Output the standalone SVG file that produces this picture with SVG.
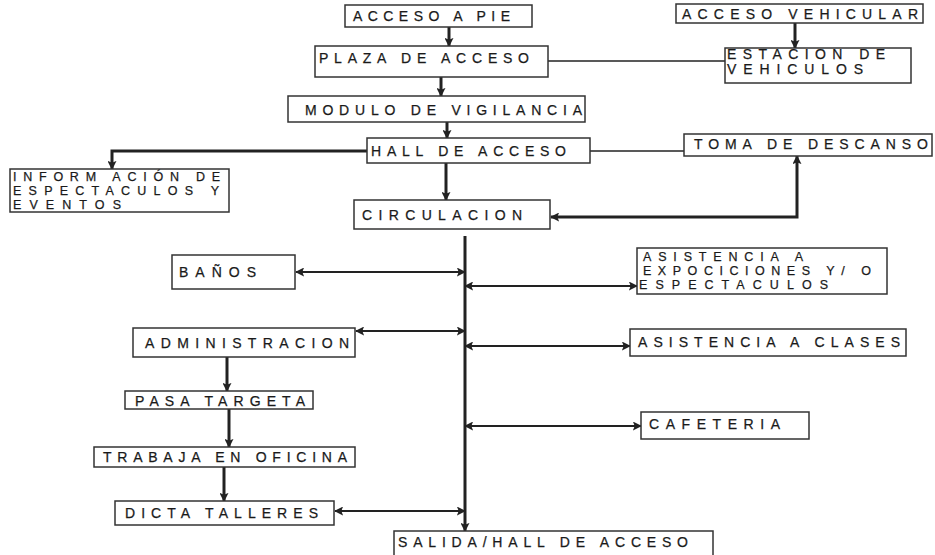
<svg xmlns="http://www.w3.org/2000/svg" width="935" height="555" viewBox="0 0 935 555">
<style>
.n rect{fill:#fff;stroke:#333;stroke-width:1.5}
.n text{font-family:"Liberation Sans",Arial,sans-serif;font-size:14px;fill:#1a1a1a;stroke:#1a1a1a;stroke-width:0.25}
.n text.ml{font-size:12.5px}
.c{fill:none;stroke:#222}
.t{stroke-width:3}
.m{stroke-width:2}
.s{stroke-width:1.4}
</style>
<defs>
<marker id="ah" viewBox="0 0 10 10" refX="9" refY="5" markerWidth="9" markerHeight="9" markerUnits="userSpaceOnUse" orient="auto-start-reverse">
<path d="M0,0 L10,5 L0,10 L2,5 Z" fill="#222"/>
</marker>
</defs>
<rect width="935" height="555" fill="#fff"/>
<g id="connectors">
<line class="c t" x1="449" y1="27" x2="449" y2="46" marker-end="url(#ah)"/>
<line class="c t" x1="441" y1="77" x2="441" y2="96" marker-end="url(#ah)"/>
<line class="c t" x1="447" y1="122" x2="447" y2="138" marker-end="url(#ah)"/>
<line class="c t" x1="795" y1="23" x2="795" y2="48" marker-end="url(#ah)"/>
<line class="c s" x1="548" y1="61" x2="725" y2="61"/>
<line class="c s" x1="590" y1="151" x2="684" y2="151"/>
<polyline class="c t" points="367,151 112,151 112,169" marker-end="url(#ah)"/>
<line class="c t" x1="446" y1="163" x2="446" y2="200" marker-end="url(#ah)"/>
<polyline class="c t" points="551,217 797,217 797,156" marker-start="url(#ah)" marker-end="url(#ah)"/>
<line class="c t" x1="465" y1="236" x2="465" y2="531" marker-end="url(#ah)"/>
<line class="c m" x1="296" y1="272" x2="465" y2="272" marker-start="url(#ah)" marker-end="url(#ah)"/>
<line class="c m" x1="465" y1="286" x2="637" y2="286" marker-start="url(#ah)" marker-end="url(#ah)"/>
<line class="c m" x1="356" y1="331" x2="465" y2="331" marker-start="url(#ah)" marker-end="url(#ah)"/>
<line class="c m" x1="465" y1="346" x2="630" y2="346" marker-start="url(#ah)" marker-end="url(#ah)"/>
<line class="c m" x1="465" y1="426" x2="641" y2="426" marker-start="url(#ah)" marker-end="url(#ah)"/>
<line class="c m" x1="335" y1="511" x2="465" y2="511" marker-start="url(#ah)" marker-end="url(#ah)"/>
<line class="c t" x1="227" y1="357" x2="227" y2="391" marker-end="url(#ah)"/>
<line class="c t" x1="229" y1="409" x2="229" y2="447" marker-end="url(#ah)"/>
<line class="c t" x1="224" y1="467" x2="224" y2="501" marker-end="url(#ah)"/>
</g>
<g id="acceso-pie" class="n"><rect x="345" y="5" width="187" height="22"/><text x="353" y="21" textLength="157" lengthAdjust="spacing">ACCESO A PIE</text></g>
<g id="plaza" class="n"><rect x="315" y="46" width="233" height="31"/><text x="319" y="62.5" textLength="210" lengthAdjust="spacing">PLAZA DE ACCESO</text></g>
<g id="modulo" class="n"><rect x="288" y="96" width="297" height="26"/><text x="305" y="114.5" textLength="277" lengthAdjust="spacing">MODULO DE VIGILANCIA</text></g>
<g id="acceso-vehicular" class="n"><rect x="676" y="4" width="247" height="19"/><text x="682" y="18.5" textLength="236" lengthAdjust="spacing">ACCESO VEHICULAR</text></g>
<g id="estacion" class="n"><rect x="725" y="48" width="186" height="35"/><text x="727" y="58.5" textLength="158" lengthAdjust="spacing">ESTACION DE</text><text x="727" y="74" textLength="136" lengthAdjust="spacing">VEHICULOS</text></g>
<g id="hall" class="n"><rect x="367" y="138" width="223" height="25"/><text x="371" y="156" textLength="195" lengthAdjust="spacing">HALL DE ACCESO</text></g>
<g id="toma" class="n"><rect x="684" y="134" width="248" height="22"/><text x="694" y="149" textLength="234" lengthAdjust="spacing">TOMA DE DESCANSO</text></g>
<g id="informacion" class="n"><rect x="10" y="169" width="219" height="43"/><text class="ml" x="13" y="181" textLength="207" lengthAdjust="spacing">INFORM ACIÓN DE</text><text class="ml" x="13" y="195" textLength="206" lengthAdjust="spacing">ESPECTACULOS Y</text><text class="ml" x="13" y="209" textLength="108" lengthAdjust="spacing">EVENTOS</text></g>
<g id="circulacion" class="n"><rect x="354" y="200" width="196" height="29"/><text x="362" y="219.5" textLength="160" lengthAdjust="spacing">CIRCULACION</text></g>
<g id="banos" class="n"><rect x="172" y="255" width="123" height="34"/><text x="179" y="277" textLength="77" lengthAdjust="spacing">BAÑOS</text></g>
<g id="asistencia-expo" class="n"><rect x="637" y="248" width="250" height="46"/><text class="ml" x="643" y="260.5" textLength="160" lengthAdjust="spacing">ASISTENCIA A</text><text class="ml" x="643" y="274.5" textLength="228" lengthAdjust="spacing">EXPOCICIONES Y/ O</text><text class="ml" x="639" y="288.5" textLength="189" lengthAdjust="spacing">ESPECTACULOS</text></g>
<g id="administracion" class="n"><rect x="133" y="328" width="222" height="29"/><text x="145" y="348" textLength="204" lengthAdjust="spacing">ADMINISTRACION</text></g>
<g id="asistencia-clases" class="n"><rect x="630" y="329" width="276" height="27"/><text x="638" y="347" textLength="262" lengthAdjust="spacing">ASISTENCIA A CLASES</text></g>
<g id="pasa" class="n"><rect x="125" y="391" width="188" height="18"/><text x="135" y="406" textLength="170" lengthAdjust="spacing">PASA TARGETA</text></g>
<g id="trabaja" class="n"><rect x="94" y="447" width="261" height="20"/><text x="103" y="462" textLength="244" lengthAdjust="spacing">TRABAJA EN OFICINA</text></g>
<g id="cafeteria" class="n"><rect x="641" y="412" width="168" height="27"/><text x="649" y="429" textLength="131" lengthAdjust="spacing">CAFETERIA</text></g>
<g id="dicta" class="n"><rect x="115" y="501" width="219" height="24"/><text x="125" y="518" textLength="193" lengthAdjust="spacing">DICTA TALLERES</text></g>
<g id="salida" class="n"><rect x="394" y="531" width="319" height="30"/><text x="398" y="547" textLength="290" lengthAdjust="spacing">SALIDA/HALL DE ACCESO</text></g>
</svg>
